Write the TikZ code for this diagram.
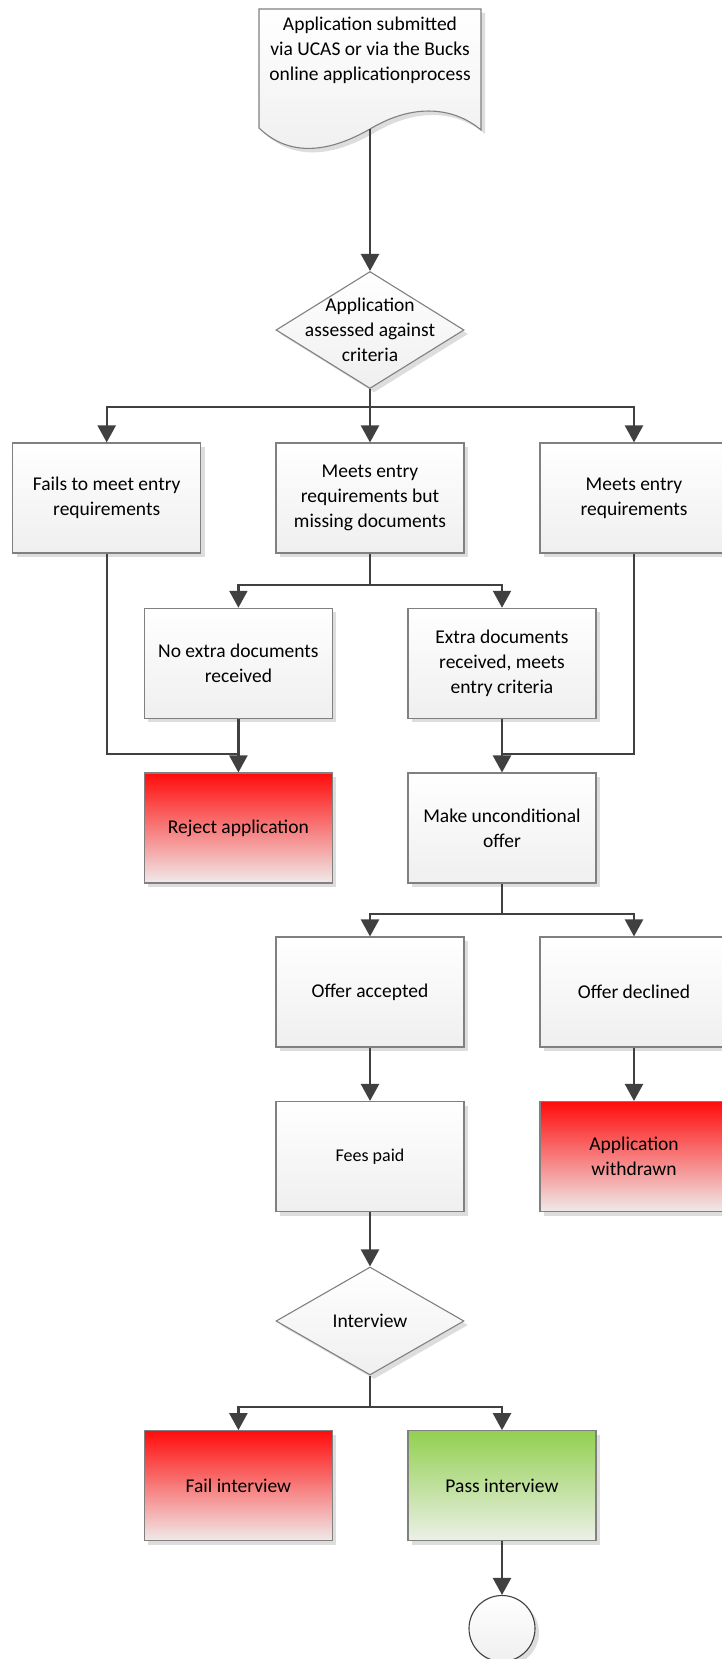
\documentclass[tikz,border=0pt]{standalone}
\usepackage{fontspec}
\setmainfont{Carlito}
\usepackage{xcolor}
\usepackage{tikz}
\usetikzlibrary{shapes.geometric, arrows.meta, shadows}
\definecolor{linkgray}{RGB}{64,64,64}
\definecolor{edgegray}{RGB}{128,128,128}
\definecolor{boxfade}{RGB}{239,239,239}
\definecolor{shadowgray}{RGB}{221,221,221}
\definecolor{rejectred}{RGB}{255,12,12}
\definecolor{rejectfade}{RGB}{240,234,234}
\definecolor{passgreen}{RGB}{146,208,80}
\definecolor{passfade}{RGB}{236,240,232}

\begin{document}
\begin{tikzpicture}[x=1pt, y=-1pt,
    >={Triangle[length=17pt,width=18pt]},
    font=\fontsize{19.5pt}{25pt}\selectfont,
    base/.style={draw=edgegray, line width=1.1pt, top color=white, bottom color=boxfade,
        drop shadow={shadow xshift=4pt, shadow yshift=-4pt, fill=shadowgray, opacity=1}},
    procbox/.style={base, rectangle, minimum width=188pt, minimum height=110pt, inner sep=0pt, align=center},
    rejectbox/.style={procbox, top color=rejectred, bottom color=rejectfade},
    passbox/.style={procbox, top color=passgreen, bottom color=passfade},
    decision/.style={base, diamond, minimum width=188pt, minimum height=117pt, inner sep=0pt},
    flow/.style={->, draw=linkgray, line width=2.3pt},
    link/.style={draw=linkgray, line width=2.3pt}]
    \useasboundingbox (0,0) rectangle (721,1659);
    % document shape at the top
    \fill[shadowgray, shift={(4,4)}] (259,9) -- (481,9) -- (481,130) .. controls (455,108) and (415,102) .. (370,129) .. controls (330,152) and (290,158) .. (259,128) -- cycle;
    \draw[draw=edgegray, line width=1.1pt, top color=white, bottom color=boxfade] (259,9) -- (481,9) -- (481,130) .. controls (455,108) and (415,102) .. (370,129) .. controls (330,152) and (290,158) .. (259,128) -- cycle;
    \node[align=center] (submitted) at (370,50) {Application submitted\\via UCAS or via the Bucks\\online applicationprocess};
    \coordinate (docend) at (370,129);
    \node[decision] (assess) at (370,330) {};
    \node[align=center] (assesstxt) at (assess) {Application\\assessed against\\criteria};
    \node[procbox] (fails) at (106.7,498) {Fails to meet entry\\requirements};
    \node[procbox] (missing) at (370,498) {Meets entry\\requirements but\\missing documents};
    \node[procbox] (meetsall) at (634,498) {Meets entry\\requirements};
    \node[procbox] (noextra) at (238.4,663.3) {No extra documents\\received};
    \node[procbox] (extra) at (502,663.3) {Extra documents\\received, meets\\entry criteria};
    \node[rejectbox] (reject) at (238.4,828) {Reject application};
    \node[procbox] (offer) at (502,828) {Make unconditional\\offer};
    \node[procbox] (accepted) at (370,992) {Offer accepted};
    \node[procbox] (declined) at (634,992) {Offer declined};
    \node[procbox, font=\fontsize{18pt}{23pt}\selectfont] (fees) at (370,1156.5) {Fees paid};
    \node[rejectbox] (withdrawn) at (634,1156.5) {Application\\withdrawn};
    \node[decision, minimum height=108pt] (interview) at (370,1321) {};
    \node (interviewtxt) at (interview) {Interview};
    \node[rejectbox] (failint) at (238.4,1485.7) {Fail interview};
    \node[passbox] (passint) at (502,1485.7) {Pass interview};
    \node[base, circle, minimum size=66pt, inner sep=0pt, draw=linkgray] (finish) at (502,1628.5) {};
    % connectors
    \coordinate (split1) at (370,407);
    \coordinate (split2) at (370,585);
    \coordinate (join1) at (238.4,754);
    \coordinate (join2) at (502,754);
    \coordinate (split3) at (502,913.7);
    \coordinate (split4) at (370,1407);
    \draw[flow] (docend) -- (assess.north);
    \draw[link] (assess.south) -- (split1);
    \draw[flow] (split1) -| (fails.north);
    \draw[flow] (split1) -- (missing.north);
    \draw[flow] (split1) -| (meetsall.north);
    \draw[link] (missing.south) -- (split2);
    \draw[flow] (split2) -| (noextra.north);
    \draw[flow] (split2) -| (extra.north);
    \draw[link] (fails.south) |- (join1);
    \draw[flow] (noextra.south) -- (reject.north);
    \draw[link] (meetsall.south) |- (join2);
    \draw[flow] (extra.south) -- (offer.north);
    \draw[link] (offer.south) -- (split3);
    \draw[flow] (split3) -| (accepted.north);
    \draw[flow] (split3) -| (declined.north);
    \draw[flow] (accepted.south) -- (fees.north);
    \draw[flow] (declined.south) -- (withdrawn.north);
    \draw[flow] (fees.south) -- (interview.north);
    \draw[link] (interview.south) -- (split4);
    \draw[flow] (split4) -| (failint.north);
    \draw[flow] (split4) -| (passint.north);
    \draw[flow] (passint.south) -- (finish.north);
\end{tikzpicture}
\end{document}
